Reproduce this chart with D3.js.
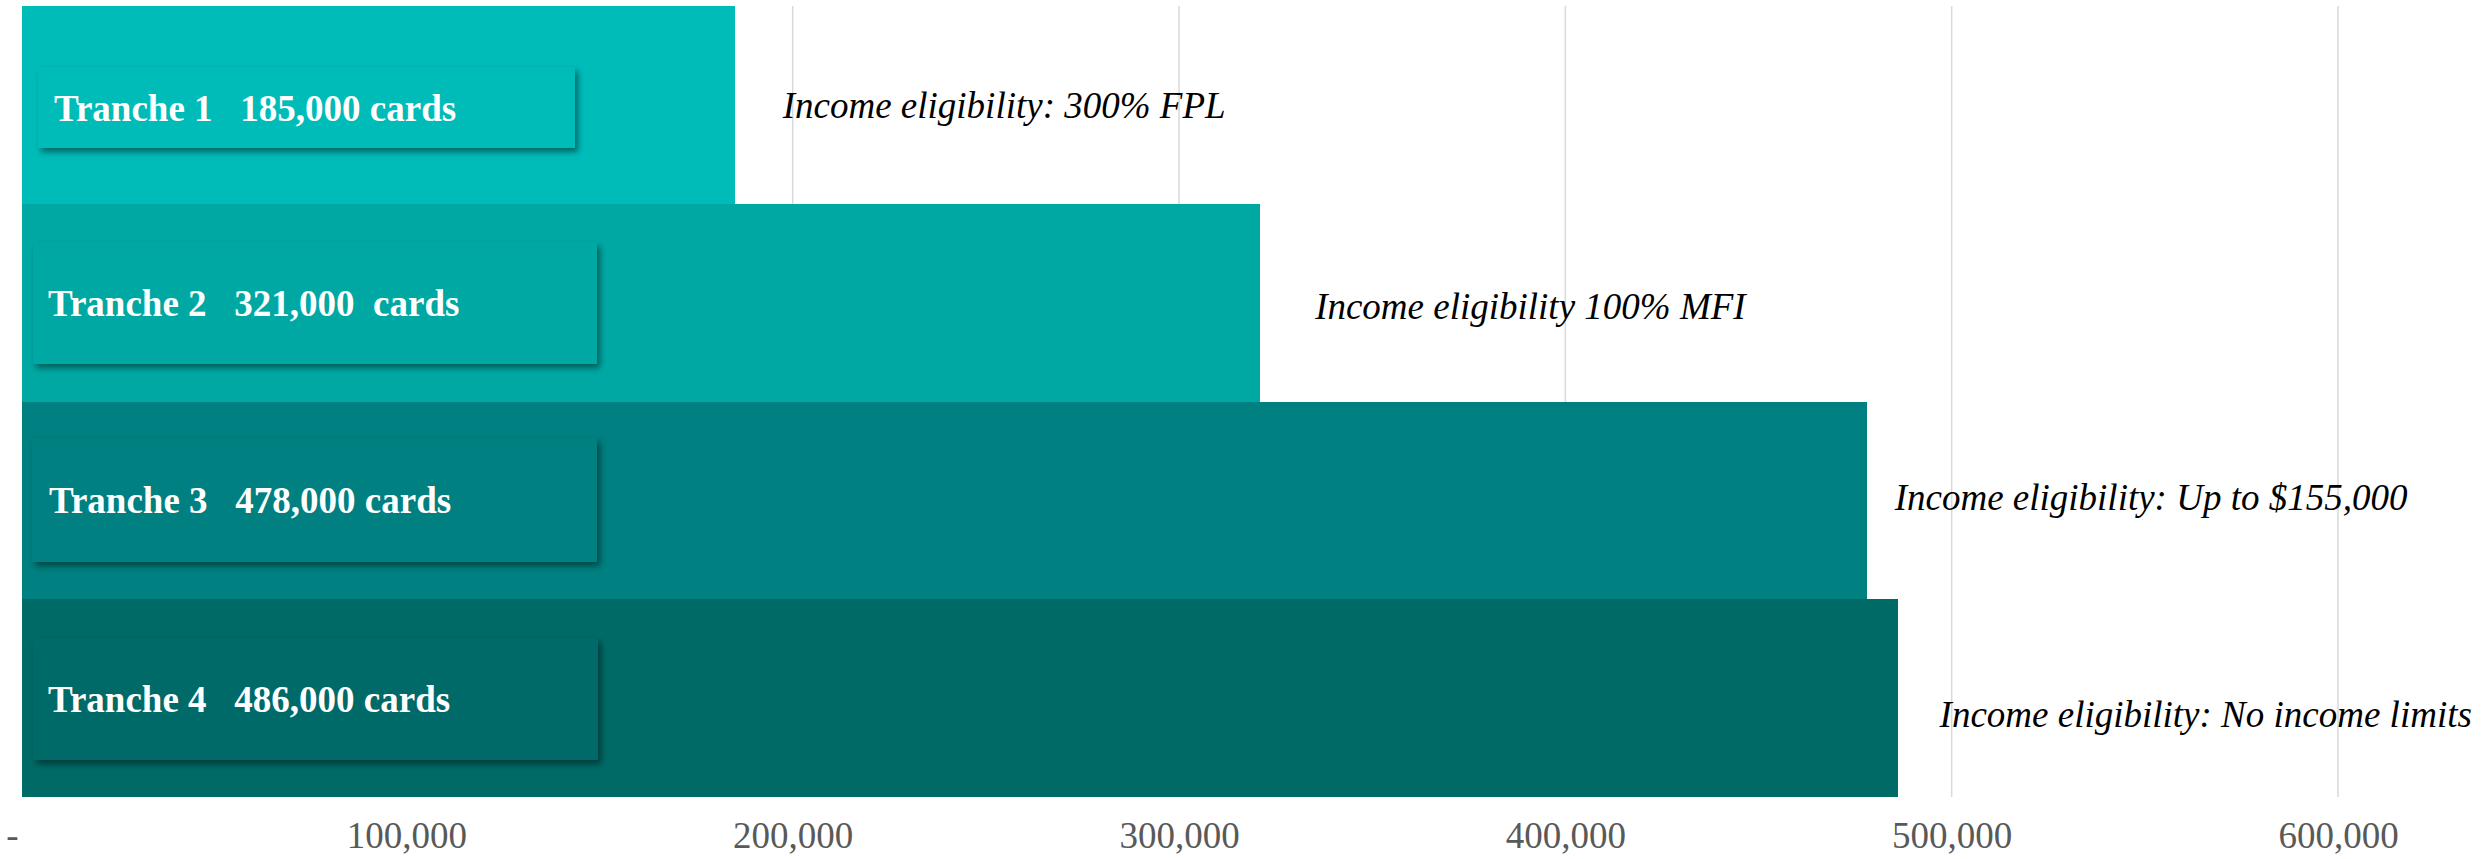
<!DOCTYPE html>
<html>
<head>
<meta charset="utf-8">
<script src="https://cdn.jsdelivr.net/npm/d3@7"></script>
<style>
  html, body { margin: 0; padding: 0; background: #ffffff; }
  svg { display: block; }
  text { white-space: pre; }
</style>
</head>
<body>
<svg id="chart" width="2486" height="859"></svg>
<script>
// Card tranches and their sizes
const tranches = ["Tranche 1", "Tranche 2", "Tranche 3", "Tranche 4"];
const cards = [185000, 321000, 478000, 486000];
const cardLabels = ["Tranche 1   185,000 cards", "Tranche 2   321,000  cards", "Tranche 3   478,000 cards", "Tranche 4   486,000 cards"];
const eligibility = [
  "Income eligibility: 300% FPL",
  "Income eligibility 100% MFI",
  "Income eligibility: Up to $155,000",
  "Income eligibility: No income limits"
];
const barColors = ["#00bcb9", "#00a8a4", "#008080", "#006a67"];
const xTicks = [0, 100000, 200000, 300000, 400000, 500000, 600000];

// Layout
const W = 2486, H = 859;
const plot = { left: 20, right: 2338, top: 6, bottom: 797 };
// label box placement inside each bar
const boxLayout = [
  { x0: 38, x1: 575, y0: 67, y1: 148, tx: 54, ty: 121 },
  { x0: 33, x1: 597, y0: 242, y1: 364, tx: 48, ty: 316 },
  { x0: 32, x1: 597, y0: 438, y1: 562, tx: 49, ty: 513 },
  { x0: 33, x1: 598, y0: 638, y1: 760, tx: 48, ty: 712 }
];
// annotation placement: offset past bar end and baseline
const noteLayout = [
  { dx: 48, y: 118 },
  { dx: 55, y: 319 },
  { dx: 28, y: 510 },
  { dx: 42, y: 727 }
];

const svg = d3.select("#chart");

const x = d3.scaleLinear().domain([0, 600000]).range([plot.left, plot.right]);
const y = d3.scaleBand().domain(tranches).range([plot.top, plot.bottom]).padding(0);

const defs = svg.append("defs");
const f = defs.append("filter").attr("id", "shadow")
  .attr("x", "-5%").attr("y", "-20%").attr("width", "115%").attr("height", "150%");
f.append("feDropShadow")
  .attr("dx", 3).attr("dy", 4).attr("stdDeviation", 3)
  .attr("flood-color", "#000").attr("flood-opacity", 0.45);

// vertical gridlines
svg.append("g").selectAll("line")
  .data(xTicks.filter(d => d > 0))
  .join("line")
  .attr("x1", d => x(d)).attr("x2", d => x(d))
  .attr("y1", plot.top).attr("y2", plot.bottom)
  .attr("stroke", "#d9d9d9").attr("stroke-width", 1.5);

// bars
svg.append("g").selectAll("rect")
  .data(tranches)
  .join("rect")
  .attr("shape-rendering", "crispEdges")
  .attr("x", x(0) + 2)
  .attr("y", d => Math.round(y(d)))
  .attr("width", (d, i) => x(cards[i]) - x(0) - 2)
  .attr("height", d => Math.round(y(d) + y.bandwidth()) - Math.round(y(d)))
  .attr("fill", (d, i) => barColors[i]);

// label boxes with drop shadow
const boxes = svg.append("g").selectAll("g")
  .data(tranches)
  .join("g");
boxes.append("rect")
  .attr("x", (d, i) => boxLayout[i].x0)
  .attr("y", (d, i) => boxLayout[i].y0)
  .attr("width", (d, i) => boxLayout[i].x1 - boxLayout[i].x0)
  .attr("height", (d, i) => boxLayout[i].y1 - boxLayout[i].y0)
  .attr("fill", (d, i) => barColors[i])
  .attr("filter", "url(#shadow)");
boxes.append("text")
  .attr("x", (d, i) => boxLayout[i].tx)
  .attr("y", (d, i) => boxLayout[i].ty)
  .attr("fill", "#ffffff")
  .attr("font-family", "'Liberation Serif', 'Times New Roman', serif")
  .attr("font-weight", "bold")
  .attr("font-size", 37)
  .attr("xml:space", "preserve")
  .text((d, i) => cardLabels[i]);

// eligibility notes
svg.append("g").selectAll("text")
  .data(tranches)
  .join("text")
  .attr("x", (d, i) => x(cards[i]) + noteLayout[i].dx)
  .attr("y", (d, i) => noteLayout[i].y)
  .attr("fill", "#000000")
  .attr("font-family", "'Liberation Serif', 'Times New Roman', serif")
  .attr("font-style", "italic")
  .attr("font-size", 37)
  .text((d, i) => eligibility[i]);

// x axis
const axis = d3.axisBottom(x)
  .tickValues(xTicks)
  .tickSize(0)
  .tickFormat(d => d === 0 ? "-" : d3.format(",")(d));
const gx = svg.append("g").attr("transform", `translate(0,${plot.bottom})`).call(axis);
gx.select(".domain").remove();
gx.selectAll("text")
  .attr("y", 51).attr("dy", 0)
  .attr("dx", d => d === 0 ? -8 : 0)
  .attr("fill", "#595959")
  .attr("font-family", "'Liberation Serif', 'Times New Roman', serif")
  .attr("font-size", 37);
</script>
</body>
</html>
